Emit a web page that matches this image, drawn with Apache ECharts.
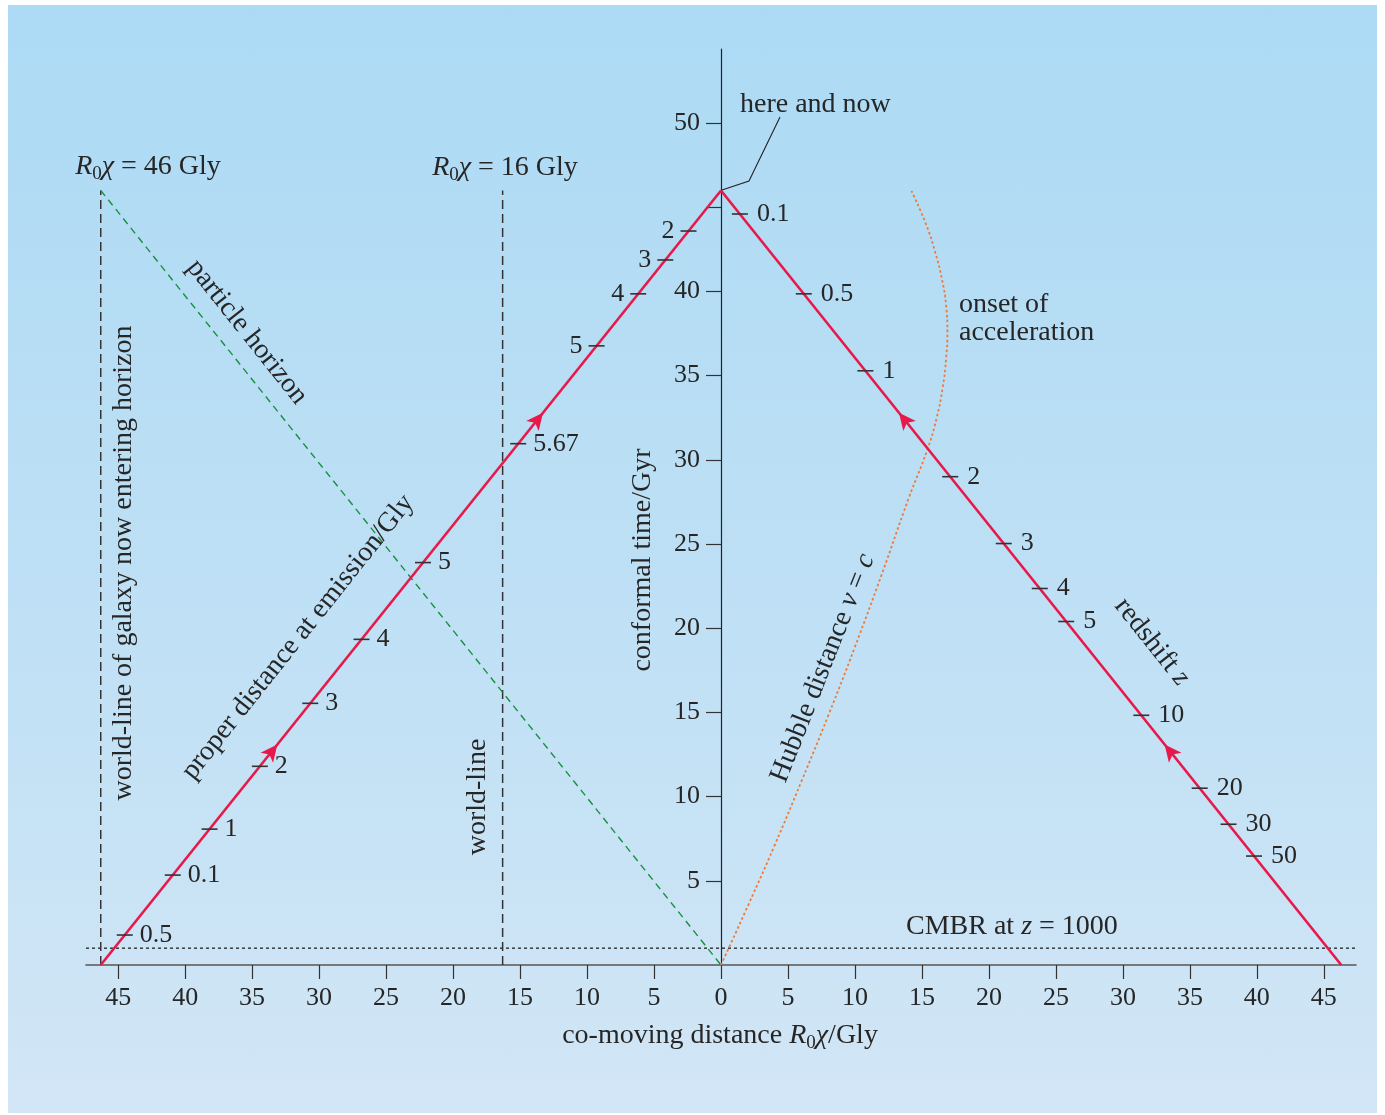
<!DOCTYPE html>
<html><head><meta charset="utf-8">
<script src="https://cdn.jsdelivr.net/npm/echarts@6/dist/echarts.min.js"></script>
<style>
html,body{margin:0;padding:0;background:#fff;width:1385px;height:1115px;overflow:hidden}
#bg{position:absolute;left:8px;top:5px;width:1369px;height:1108px;background:linear-gradient(180deg,#acdaf4 0%,#bfe0f5 55%,#d2e6f6 100%)}
#chart{position:absolute;left:0;top:0;width:1385px;height:1115px}
</style></head><body><div id="bg"></div><div id="chart"></div>
<script>
// ---- data ----
const xTicks = [-45,-40,-35,-30,-25,-20,-15,-10,-5,0,5,10,15,20,25,30,35,40,45];
const yTickValues = [5,10,15,20,25,30,35,40,45,50];
const yTickLabels = [5,10,15,20,25,30,35,40,50];
const tNow = 46.0;          // conformal time now (Gyr)
const chiHorizon = 46.3;    // co-moving distance of particle horizon (Gly)
const chiWorldLine = 16.3;  // co-moving distance of galaxy world-line (Gly)
const cmbrTime = 1.0;       // conformal time of CMBR
// redshift marks on the past light cone (right)
const redshiftLabels = ['0.1','0.5','1','2','3','4','5','10','20','30','50'];
const redshiftTimes  = [44.60,39.86,35.29,29.00,25.03,22.36,20.40,14.83,10.50,8.36,6.47];
// proper distance at emission marks (left light ray)
const properLabelsLow = ['0.5','0.1','1','2','3','4','5','5.67'];
const properTimesLow  = [1.78,5.34,8.07,11.80,15.54,19.34,23.90,30.96];
const properLabelsHigh = ['5','4','3','2'];
const properTimesHigh  = [36.77,39.86,41.87,43.59];
const arrowTimes = [13.1, 32.8];
// Hubble distance (v = c) curve
const hubbleX = [0,2,4,6,8,10,12,14,15.4,16.1,16.55,16.8,16.9,16.8,16.5,16.0,15.3,14.22];
const hubbleY = [0,3.5,7.1,10.9,14.8,18.9,23.2,27.7,30.6,32.5,34.3,36.0,37.6,39.2,40.7,42.3,44.0,45.97];

// ---- helpers ----
const FONT = '"Liberation Serif", "DejaVu Serif", serif';
const TXT = '#262626';
const FS = 26;   // numbers
const FT = 28;   // annotation text
const leftX = t => -chiHorizon * (1 - t / tNow);
const rightX = t => chiHorizon * (1 - t / tNow);
const rich = {
  i: {fontStyle:'italic', fontFamily:FONT, fontSize:FT, color:TXT},
  s: {fontFamily:FONT, fontSize:19, padding:[15,0,0,0], color:TXT},
  n: {fontFamily:FONT, fontSize:FT, color:TXT}
};
function tickSeries(labels, times, fx, pos, dist) {
  return {
    type:'scatter', z:5, silent:true,
    symbol:'rect', symbolSize:[16,1.6],
    itemStyle:{color:'#333', opacity:1},
    data: labels.map((l,k)=>({name:l, value:[fx(times[k]), times[k]]})),
    label:{show:true, formatter:p=>p.name, position:pos, distance:dist, opacity:1,
      fontFamily:FONT, fontSize:FS, color:TXT}
  };
}
function lineSeries(pts, style, z) {
  return {type:'line', data:pts, showSymbol:false, symbol:'none', silent:true, z:z||2,
    lineStyle:style, animation:false};
}
function txt(x, y, text, opts) {
  opts = opts || {};
  return {type:'text', x:x, y:y, rotation:(opts.rot||0)*Math.PI/180, z:10,
    style:{text:text, rich:rich, fontFamily:FONT, fontSize:FT, fill:TXT,
      align:opts.align||'center', verticalAlign:'middle'}};
}

const chart = echarts.init(document.getElementById('chart'), null, {renderer:'canvas'});
const option = {
  animation:false,
  backgroundColor:'transparent',
  grid:{left:86, top:49, width:1270, height:916, containLabel:false},
  xAxis:{type:'value', min:-47.4, max:47.4,
    axisLine:{onZero:false, lineStyle:{color:'#555', width:1.6}},
    axisTick:{customValues:xTicks, length:14, lineStyle:{color:'#333', width:1.2}},
    axisLabel:{customValues:xTicks, formatter:v=>String(Math.abs(v)), margin:20,
      fontFamily:FONT, fontSize:FS, color:TXT},
    splitLine:{show:false}},
  yAxis:{type:'value', min:0, max:54.4, position:'left', offset:-635,
    axisLine:{onZero:false, lineStyle:{color:'#222', width:1.2}},
    axisTick:{customValues:yTickValues, length:15, lineStyle:{color:'#333', width:1.2}},
    axisLabel:{customValues:yTickLabels, margin:21, fontFamily:FONT, fontSize:FS, color:TXT},
    splitLine:{show:false}},
  series:[
    lineSeries([[-47.4,cmbrTime],[47.4,cmbrTime]], {color:'#222', width:1.3, type:[3,3]}),
    lineSeries([[-chiHorizon,0],[-chiHorizon,tNow]], {color:'#333', width:1.5, type:[9,5]}),
    lineSeries([[-chiWorldLine,0],[-chiWorldLine,tNow]], {color:'#333', width:1.5, type:[9,5]}),
    lineSeries([[-chiHorizon,tNow],[0,0]], {color:'#17913f', width:1.4, type:[7,5]}),
    Object.assign(lineSeries(hubbleX.map((x,k)=>[x,hubbleY[k]]), {color:'#ee7a3a', width:1.8, type:[2.5,2.5]}), {smooth:0.5}),
    lineSeries([[-chiHorizon,0],[0,tNow]], {color:'#e8194a', width:2.6}, 3),
    lineSeries([[0,tNow],[chiHorizon,0]], {color:'#e8194a', width:2.6}, 3),
    tickSeries(redshiftLabels, redshiftTimes, rightX, 'right', 9),
    tickSeries(properLabelsLow, properTimesLow, leftX, 'right', 7),
    tickSeries(properLabelsHigh, properTimesHigh, leftX, 'left', 6),
    {type:'scatter', z:6, silent:true, symbol:'arrow', symbolSize:[12,17],
      itemStyle:{color:'#e8194a', opacity:1},
      data: arrowTimes.map(t=>({value:[leftX(t),t], symbolRotate:-38.5}))
        .concat(arrowTimes.map(t=>({value:[rightX(t),t], symbolRotate:38.5})))}
  ],
  graphic:[
    txt(148,167,'{i|R}{s|0}{i|χ} = 46 Gly'),
    txt(505,168,'{i|R}{s|0}{i|χ} = 16 Gly'),
    txt(740,105,'here and now',{align:'left'}),
    txt(959,305,'onset of',{align:'left'}),
    txt(959,333,'acceleration',{align:'left'}),
    txt(906,927,'CMBR at {i|z} = 1000',{align:'left'}),
    txt(720,1036,'co-moving distance {i|R}{s|0}{i|χ}/Gly'),
    txt(643,560,'conformal time/Gyr',{rot:90}),
    txt(124,563,'world-line of galaxy now entering horizon',{rot:90}),
    txt(478,797,'world-line',{rot:90}),
    txt(247,332,'particle horizon',{rot:-51.5}),
    txt(298,637,'proper distance at emission/Gly',{rot:51.5}),
    txt(823,668,'Hubble distance {i|v} = {i|c}',{rot:68.5}),
    txt(1152,642,'redshift {i|z}',{rot:-51.5}),
    {type:'polyline', z:10, shape:{points:[[722,190],[749,181],[780,117]]},
      style:{stroke:'#222', lineWidth:1.1, fill:null}}
  ]
};
chart.setOption(option);
</script></body></html>
